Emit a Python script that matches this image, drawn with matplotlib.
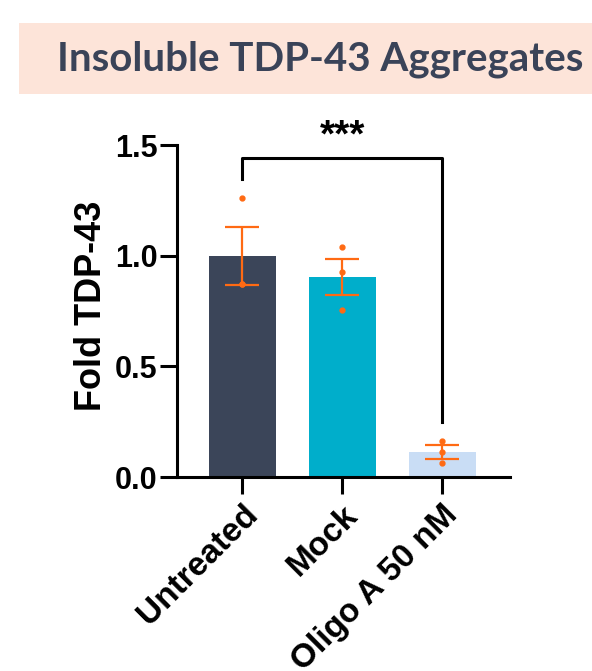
import numpy as np
import matplotlib
matplotlib.use("Agg")
import matplotlib.pyplot as plt
from matplotlib.patches import Rectangle

# DATA
groups = ["Untreated", "Mock", "Oligo A 50 nM"]
means = [1.00, 0.905, 0.113]
sems = [0.131, 0.081, 0.030]
points = [
    [1.26, 0.87, 0.87],
    [1.04, 0.925, 0.753],
    [0.164, 0.114, 0.062],
]
bar_colors = ["#3b4559", "#00aecb", "#c9ddf5"]
sig_label = "***"

ORANGE = "#ff6a13"
TITLE_COLOR = "#3a4358"

plt.rcParams["font.family"] = ["Liberation Sans", "DejaVu Sans"]

fig = plt.figure(figsize=(5.92, 6.71), dpi=100)

# title banner
fig.patches.append(Rectangle((0.032, 0.860), 1.0, 0.106, transform=fig.transFigure,
                             facecolor="#fde4d9", edgecolor="none", zorder=0))
fig.text(0.096, 0.911, "Insoluble TDP-43 Aggregates", family="Lato",
         fontweight="bold", fontsize=29, color=TITLE_COLOR, va="center", ha="left")

ax = fig.add_axes([0.299, 0.2891, 0.5625, 0.4948])

x = np.arange(len(groups))
ax.bar(x, means, width=0.67, color=bar_colors, zorder=1)
ax.errorbar(x, means, yerr=sems, fmt="none", ecolor=ORANGE, elinewidth=1.6,
            capsize=12, capthick=1.6, zorder=3)
for xi, pts in zip(x, points):
    ax.plot([xi] * len(pts), pts, "o", color=ORANGE, markersize=3.5, zorder=4,
            clip_on=False)

# significance bracket
y_top = 1.443
ax.plot([0, 0, 2, 2], [1.348, y_top, y_top, 0.25], color="black", lw=2.2,
        clip_on=False, zorder=5)
ax.text(1, y_top + 0.012, sig_label, ha="center", va="bottom", fontsize=28,
        fontweight="bold", clip_on=False)

ax.set_xlim(-0.655, 2.68)
ax.set_ylim(0, 1.5)
ax.set_yticks([0.0, 0.5, 1.0, 1.5])
ax.set_yticklabels(["0.0", "0.5", "1.0", "1.5"])
ax.set_xticks(x)
ax.set_xticklabels(groups, rotation=45, ha="right", va="top",
                   rotation_mode="anchor")

for lab in ax.get_xticklabels():
    lab.set_fontweight("bold")
    lab.set_fontsize(24)
for lab in ax.get_yticklabels():
    lab.set_fontweight("bold")
    lab.set_fontsize(22)

ax.set_ylabel("Fold TDP-43", fontsize=26, fontweight="bold")
ax.yaxis.set_label_coords(-0.205, 0.515)

for side in ["top", "right"]:
    ax.spines[side].set_visible(False)
for side in ["left", "bottom"]:
    ax.spines[side].set_linewidth(2.2)
ax.tick_params(axis="both", length=12, width=2.2, direction="out")
ax.tick_params(axis="y", pad=2)
ax.tick_params(axis="x", pad=4)

plt.savefig("out.png", dpi=100)
